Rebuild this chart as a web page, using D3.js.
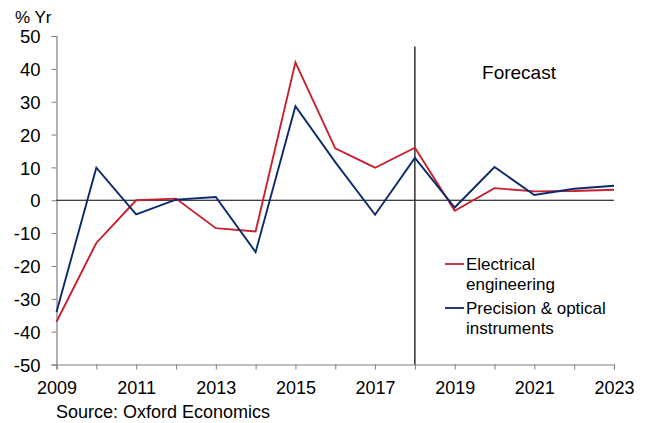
<!DOCTYPE html>
<html><head><meta charset="utf-8">
<script src="https://cdn.jsdelivr.net/npm/d3@7"></script>
<style>body{margin:0;background:#fff}svg{display:block}text{font-family:"Liberation Sans",Arial,sans-serif;fill:#000}</style>
</head><body><svg id="c" width="653" height="423"></svg>
<script>
const years = [2009,2010,2011,2012,2013,2014,2015,2016,2017,2018,2019,2020,2021,2022,2023];
const electrical = [-37,-13,0,0.5,-8.5,-9.5,42,15.8,9.9,16,-3.2,3.7,2.7,2.8,3.2];
const precision = [-34,9.9,-4.3,0.2,1,-15.8,28.6,11.6,-4.4,12.9,-2.2,10.1,1.6,3.5,4.4];
const yTicks = [50,40,30,20,10,0,-10,-20,-30,-40,-50];
const xLabels = [2009,2011,2013,2015,2017,2019,2021,2023];
const forecastYear = 2018;
const colors = ["#c8202f","#0a2a6b"];

const svg = d3.select("#c");
const x = d3.scaleLinear().domain([2009,2023]).range([56.5,614]);
const y = d3.scaleLinear().domain([-50,50]).range([364.5,36]);
const FF = "Liberation Sans, Arial, sans-serif";

// y axis
const ya = svg.append("g").attr("transform","translate(56.5,0)")
  .call(d3.axisLeft(y).tickValues(yTicks).tickSize(5).tickPadding(11).tickFormat(d => String(d)));
ya.select(".domain").attr("stroke","#808080").attr("stroke-width",1.2);
ya.selectAll(".tick line").attr("stroke","#808080");
ya.selectAll("text").style("font-size","18.5px").attr("font-family",FF).attr("fill","#000").attr("dy","0.36em");

// x axis
const xa = svg.append("g").attr("transform","translate(0,364.5)")
  .call(d3.axisBottom(x).tickValues(years).tickSize(5).tickPadding(11.5).tickFormat(d => xLabels.includes(d) ? String(d) : ""));
xa.select(".domain").attr("stroke","#808080").attr("stroke-width",1.2);
xa.selectAll(".tick line").attr("stroke","#808080");
xa.selectAll("text").style("font-size","18px").attr("font-family",FF).attr("fill","#000");

// zero line
svg.append("line").attr("x1",x(2009)).attr("x2",x(2023)).attr("y1",y(0)).attr("y2",y(0))
  .attr("stroke","#000").attr("stroke-width",1.2);
// forecast line
svg.append("line").attr("x1",x(forecastYear)).attr("x2",x(forecastYear)).attr("y1",46.5).attr("y2",y(-50))
  .attr("stroke","#000").attr("stroke-width",1.2);

const line = d3.line().x((d,i)=>x(years[i])).y(d=>y(d));
[electrical,precision].forEach((s,i)=>{
  svg.append("path").datum(s).attr("d",line).attr("fill","none")
    .attr("stroke",colors[i]).attr("stroke-width",1.9).attr("stroke-linejoin","miter");
});

svg.append("text").attr("x",15).attr("y",22.5).style("font-size","17px").text("% Yr");
svg.append("text").attr("x",519).attr("y",79).attr("text-anchor","middle").style("font-size","19px").text("Forecast");
svg.append("text").attr("x",56).attr("y",418).style("font-size","18px").text("Source: Oxford Economics");

// legend
const leg = [
  {lines:["Electrical","engineering"], y:264},
  {lines:["Precision & optical","instruments"], y:308}
];
leg.forEach((l,i)=>{
  svg.append("line").attr("x1",445).attr("x2",464).attr("y1",l.y).attr("y2",l.y)
    .attr("stroke",colors[i]).attr("stroke-width",1.8);
  l.lines.forEach((t,j)=>{
    svg.append("text").attr("x",466).attr("y",l.y+6+j*20).style("font-size","17px").text(t);
  });
});
</script></body></html>
